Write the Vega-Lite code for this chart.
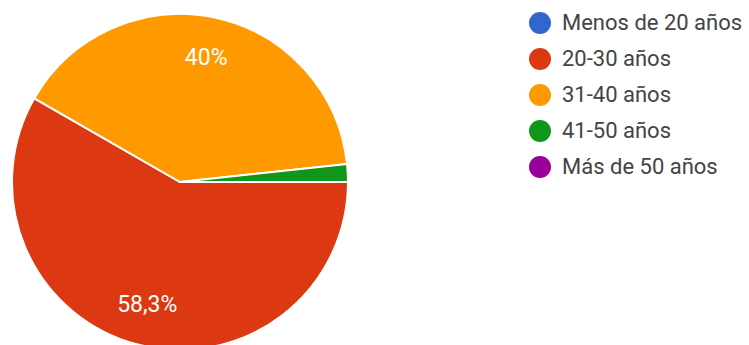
{
  "$schema": "https://vega.github.io/schema/vega-lite/v6.json",
  "width": 360,
  "height": 364,
  "padding": 0,
  "background": "white",
  "config": {"view": {"stroke": null}, "font": "Roboto"},
  "data": {
    "values": [
      {"grupo": "Menos de 20 años", "pct": 0, "orden": 1, "label": ""},
      {"grupo": "20-30 años", "pct": 58.3, "orden": 2, "label": "58,3%"},
      {"grupo": "31-40 años", "pct": 40, "orden": 3, "label": "40%"},
      {"grupo": "41-50 años", "pct": 1.7, "orden": 4, "label": ""},
      {"grupo": "Más de 50 años", "pct": 0, "orden": 5, "label": ""}
    ]
  },
  "encoding": {
    "theta": {"field": "pct", "type": "quantitative", "stack": true, "scale": {"range": [1.5708, 7.854]}},
    "order": {"field": "orden", "type": "quantitative", "sort": "ascending"}
  },
  "layer": [
    {
      "mark": {"type": "arc", "outerRadius": 168, "stroke": "white", "strokeWidth": 2},
      "encoding": {
        "color": {
          "field": "grupo",
          "type": "nominal",
          "scale": {
            "domain": ["Menos de 20 años", "20-30 años", "31-40 años", "41-50 años", "Más de 50 años"],
            "range": ["#3366cc", "#dc3912", "#ff9900", "#109618", "#990099"]
          },
          "legend": {
            "title": null,
            "orient": "none",
            "legendX": 529,
            "legendY": 12,
            "symbolType": "circle",
            "symbolSize": 484,
            "symbolStrokeWidth": 0,
            "labelFontSize": 22,
            "labelColor": "#444444",
            "labelOffset": 11,
            "rowPadding": 14,
            "labelLimit": 300
          }
        }
      }
    },
    {
      "mark": {"type": "text", "radius": 127, "color": "white", "fontSize": 23},
      "encoding": {"text": {"field": "label"}}
    }
  ]
}
